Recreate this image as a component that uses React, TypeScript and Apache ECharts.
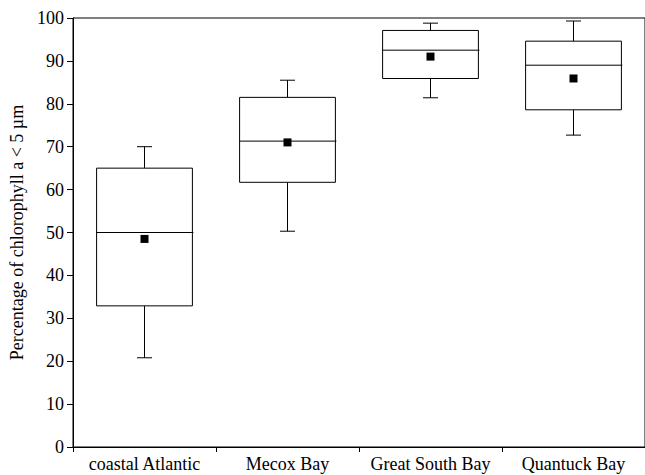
import React, { useEffect, useRef } from "react";
import * as echarts from "echarts";

const categories = ["coastal Atlantic", "Mecox Bay", "Great South Bay", "Quantuck Bay"];
const whiskerLow = [20.8, 50.3, 81.4, 72.7];
const q1 = [32.9, 61.7, 85.9, 78.6];
const median = [50.0, 71.3, 92.5, 89.0];
const q3 = [65.0, 81.5, 97.1, 94.6];
const whiskerHigh = [70.0, 85.5, 98.8, 99.3];
const means = [48.5, 71.0, 91.0, 85.9];
const yTicks = [0, 10, 20, 30, 40, 50, 60, 70, 80, 90, 100];

export default function App() {
  const ref = useRef<HTMLDivElement>(null);
  useEffect(() => {
    const chart = echarts.init(ref.current!, null, { renderer: "svg" });
    const font = "Liberation Serif";
    const boxData = categories.map((_, i) => [i, whiskerLow[i], q1[i], median[i], q3[i], whiskerHigh[i]]);
    chart.setOption({
      animation: false,
      backgroundColor: "#fff",
      textStyle: { fontFamily: font },
      grid: {
        left: 73,
        top: 18,
        bottom: 28,
        width: 578,
        show: true,
        borderColor: "#000",
        borderWidth: 1,
        backgroundColor: "transparent",
      },
      xAxis: {
        type: "category",
        data: categories,
        boundaryGap: true,
        axisLine: { show: true, lineStyle: { color: "#000", width: 1 } },
        axisTick: { show: true, length: 5, interval: 0, alignWithLabel: false, lineStyle: { color: "#000" } },
        axisLabel: { color: "#000", fontFamily: font, fontSize: 18, margin: 8, interval: 0, hideOverlap: false },
        splitLine: { show: false },
      },
      yAxis: {
        type: "value",
        min: 0,
        max: 100,
        interval: 10,
        name: "Percentage of chlorophyll a < 5 µm",
        nameLocation: "middle",
        nameGap: 42,
        nameRotate: 90,
        nameTextStyle: { color: "#000", fontFamily: font, fontSize: 18 },
        axisLine: { show: true, lineStyle: { color: "#000", width: 1 } },
        axisTick: { show: true, inside: false, length: 6, lineStyle: { color: "#000" } },
        axisLabel: {
          color: "#000",
          fontFamily: font,
          fontSize: 18,
          margin: 9,
          formatter: (v: number) => (yTicks.includes(v) ? String(v) : ""),
        },
        splitLine: { show: false },
      },
      series: [
        {
          type: "custom",
          data: boxData,
          encode: { x: 0, y: [1, 2, 3, 4, 5] },
          renderItem: (params: any, api: any) => {
            const x = api.value(0);
            const pLo = api.coord([x, api.value(1)]);
            const pQ1 = api.coord([x, api.value(2)]);
            const pMed = api.coord([x, api.value(3)]);
            const pQ3 = api.coord([x, api.value(4)]);
            const pHi = api.coord([x, api.value(5)]);
            const band = api.size([1, 0])[0];
            const boxW = band * 0.67;
            const capW = 15;
            const cx = pMed[0];
            const st = { stroke: "#000", lineWidth: 1, fill: null };
            return {
              type: "group",
              children: [
                { type: "line", shape: { x1: cx, y1: pQ3[1], x2: cx, y2: pHi[1] }, style: st },
                { type: "line", shape: { x1: cx - capW / 2, y1: pHi[1], x2: cx + capW / 2, y2: pHi[1] }, style: st },
                { type: "line", shape: { x1: cx, y1: pQ1[1], x2: cx, y2: pLo[1] }, style: st },
                { type: "line", shape: { x1: cx - capW / 2, y1: pLo[1], x2: cx + capW / 2, y2: pLo[1] }, style: st },
                {
                  type: "rect",
                  shape: { x: cx - boxW / 2, y: pQ3[1], width: boxW, height: pQ1[1] - pQ3[1] },
                  style: { stroke: "#000", lineWidth: 1, fill: "#fff" },
                },
                { type: "line", shape: { x1: cx - boxW / 2, y1: pMed[1], x2: cx + boxW / 2 + 1, y2: pMed[1] }, style: st },
              ],
            };
          },
          z: 2,
        },
        {
          type: "scatter",
          data: categories.map((_, i) => [i, means[i]]),
          symbol: "rect",
          symbolSize: 8,
          itemStyle: { color: "#000", opacity: 1 },
          z: 3,
        },
      ],
    });
    return () => chart.dispose();
  }, []);
  return (
    <div
      ref={ref}
      style={{ width: 645, height: 475, position: "fixed", left: 0, top: 0, background: "#fff" }}
    />
  );
}
